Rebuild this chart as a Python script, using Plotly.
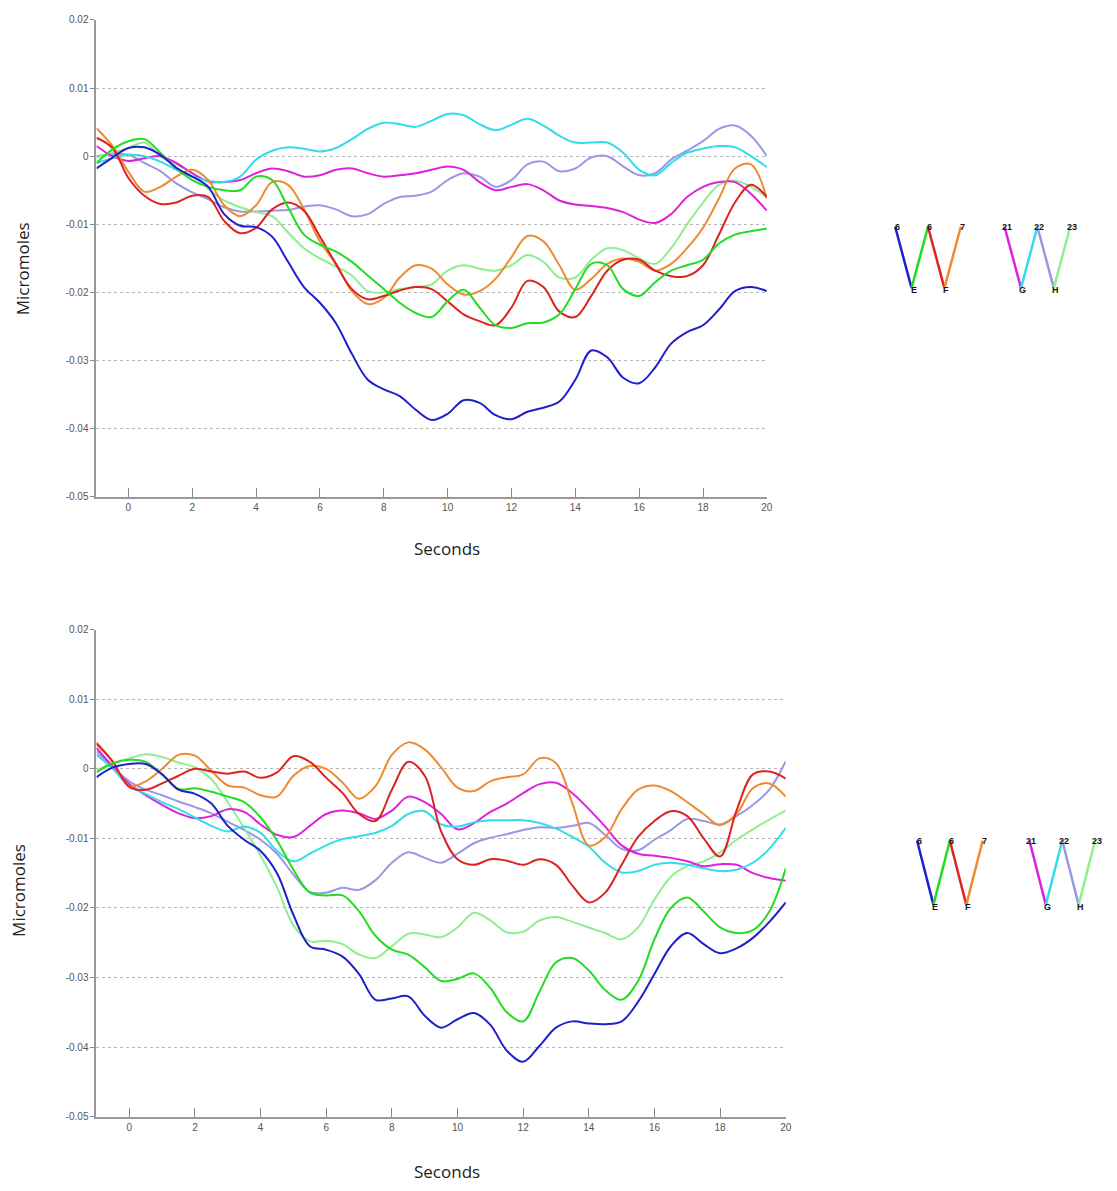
import plotly.graph_objects as go

# ---------------- data ----------------
seconds = [-1, -0.5, 0, 0.5, 1, 1.5, 2, 2.5, 3, 3.5, 4, 4.5, 5, 5.5, 6, 6.5, 7, 7.5,
           8, 8.5, 9, 9.5, 10, 10.5, 11, 11.5, 12, 12.5, 13, 13.5, 14, 14.5, 15,
           15.5, 16, 16.5, 17, 17.5, 18, 18.5, 19, 19.5, 20]

# top panel
top_blue = [-0.0018, -0.0002, 0.0012, 0.0013, 0.0002, -0.0017, -0.003, -0.0045, -0.0085, -0.0102,
            -0.0104, -0.0118, -0.0155, -0.0192, -0.0215, -0.0245, -0.029, -0.0328, -0.0342, -0.0352,
            -0.0372, -0.0387, -0.0378, -0.0358, -0.0362, -0.0380, -0.0386, -0.0375, -0.0369, -0.0360,
            -0.0328, -0.0285, -0.0295, -0.0325, -0.0333, -0.0310, -0.0275, -0.0258, -0.0248, -0.0225,
            -0.0198, -0.0192, -0.0198]
top_green = [-0.001, 0.001, 0.0022, 0.0025, 0.0005, -0.0018, -0.0035, -0.0045, -0.005, -0.005,
             -0.003, -0.0035, -0.0075, -0.0115, -0.013, -0.014, -0.0155, -0.0175, -0.0195, -0.0215,
             -0.023, -0.0236, -0.0213, -0.0196, -0.0222, -0.0248, -0.0252, -0.0245, -0.0244, -0.0232,
             -0.0195, -0.0158, -0.0160, -0.0195, -0.0205, -0.0185, -0.0168, -0.016, -0.0152, -0.0128,
             -0.0115, -0.011, -0.0106]
top_red = [0.0027, 0.0012, -0.0032, -0.0058, -0.007, -0.0068, -0.0058, -0.006, -0.0095, -0.0113,
           -0.0105, -0.0078, -0.0068, -0.008, -0.0118, -0.0158, -0.0195, -0.021, -0.0205, -0.0197,
           -0.0192, -0.0195, -0.0213, -0.0232, -0.0242, -0.0248, -0.0222, -0.0183, -0.0192, -0.0228,
           -0.0236, -0.0205, -0.0168, -0.0152, -0.0152, -0.0168, -0.0176, -0.0176, -0.0160, -0.0115,
           -0.0068, -0.0042, -0.006]
top_orange = [0.0041, 0.0015, -0.0023, -0.0052, -0.0045, -0.003, -0.002, -0.0035, -0.0072, -0.0088,
              -0.0072, -0.0038, -0.0042, -0.0078, -0.0125, -0.0158, -0.0198, -0.0217, -0.0208, -0.0178,
              -0.016, -0.0165, -0.0188, -0.0203, -0.0198, -0.0180, -0.0148, -0.0117, -0.0125, -0.016,
              -0.0196, -0.0180, -0.0158, -0.0150, -0.0155, -0.0168, -0.0158, -0.0135, -0.0105, -0.0062,
              -0.0018, -0.0012, -0.0062]
top_magenta = [0.0015, 0.0, -0.0007, -0.0003, 0.0, -0.001, -0.0025, -0.0037, -0.0038, -0.0035,
               -0.0025, -0.0018, -0.0022, -0.003, -0.0028, -0.002, -0.0018, -0.0025, -0.003, -0.0028,
               -0.0025, -0.002, -0.0015, -0.002, -0.0038, -0.005, -0.0045, -0.0041, -0.005, -0.0065,
               -0.0071, -0.0073, -0.0076, -0.0082, -0.0093, -0.0098, -0.0085, -0.006, -0.0045, -0.0038,
               -0.0038, -0.0055, -0.008]
top_cyan = [-0.001, -0.0003, 0.0002, 0.0, -0.0008, -0.002, -0.003, -0.0036, -0.0038, -0.003,
            -0.0005, 0.0008, 0.0013, 0.0011, 0.0007, 0.0012, 0.0025, 0.004, 0.0049, 0.0047,
            0.0043, 0.0052, 0.0062, 0.006, 0.0047, 0.0038, 0.0046, 0.0055, 0.0045, 0.003,
            0.002, 0.002, 0.002, 0.0005, -0.002, -0.0028, -0.001, 0.0005, 0.0011, 0.0015,
            0.0013, 0.0, -0.0016]
top_lavender = [0.0, 0.0003, 0.0002, -0.001, -0.0022, -0.004, -0.0053, -0.0063, -0.0075, -0.0081,
                -0.0081, -0.008, -0.0079, -0.0074, -0.0072, -0.0078, -0.0088, -0.0085, -0.007, -0.006,
                -0.0058, -0.0052, -0.0035, -0.0025, -0.003, -0.0045, -0.0035, -0.0012, -0.0008, -0.0022,
                -0.0018, -0.0002, 0.0, -0.0015, -0.0028, -0.0025, -0.0005, 0.0008, 0.0022, 0.004,
                0.0045, 0.003, 0.0]
top_lightgreen = [-0.0002, 0.0005, 0.0012, 0.002, 0.0, -0.0012, -0.0025, -0.0048, -0.0065, -0.0075,
                  -0.0082, -0.0088, -0.0112, -0.0135, -0.015, -0.0162, -0.0175, -0.0198, -0.02, -0.0195,
                  -0.0192, -0.0188, -0.0168, -0.016, -0.0165, -0.0168, -0.0160, -0.0145, -0.0155, -0.0178,
                  -0.0178, -0.0152, -0.0135, -0.0138, -0.0150, -0.0158, -0.0135, -0.0100, -0.0068, -0.0042,
                  -0.0036, -0.0045, -0.006]

# bottom panel
bot_blue = [-0.0012, 0.0002, 0.0007, 0.0007, -0.0008, -0.003, -0.0036, -0.005, -0.0082, -0.0102,
            -0.0118, -0.015, -0.021, -0.0255, -0.026, -0.027, -0.0295, -0.0332, -0.033, -0.0327,
            -0.0355, -0.0372, -0.036, -0.0351, -0.0368, -0.0405, -0.0421, -0.0398, -0.0372, -0.0363,
            -0.0366, -0.0367, -0.0363, -0.0335, -0.0295, -0.0255, -0.0236, -0.0252, -0.0265, -0.0258,
            -0.0243, -0.022, -0.0192]
bot_green = [-0.0005, 0.0008, 0.0013, 0.001, -0.0008, -0.0029, -0.0028, -0.0033, -0.004, -0.0048,
             -0.007, -0.0103, -0.0145, -0.0178, -0.0182, -0.0182, -0.0205, -0.024, -0.026, -0.0267,
             -0.0285, -0.0305, -0.0302, -0.0294, -0.0315, -0.035, -0.0363, -0.032, -0.0278, -0.0272,
             -0.029, -0.0318, -0.0332, -0.0305, -0.0245, -0.0200, -0.0185, -0.0205, -0.0228, -0.0236,
             -0.0232, -0.0205, -0.0143]
bot_red = [0.0036, 0.001, -0.0026, -0.003, -0.0021, -0.001, 0.0, -0.0004, -0.0007, -0.0004,
           -0.0013, -0.0005, 0.0018, 0.001, -0.0013, -0.0035, -0.0065, -0.0075, -0.003, 0.001,
           -0.001, -0.009, -0.013, -0.0138, -0.013, -0.0132, -0.0138, -0.013, -0.0138, -0.0168,
           -0.0192, -0.0178, -0.0138, -0.0098, -0.0075, -0.0061, -0.0068, -0.01, -0.0126, -0.006,
           -0.0008, -0.0004, -0.0014]
bot_orange = [0.0038, 0.001, -0.0025, -0.0018, 0.0, 0.002, 0.0019, -0.0003, -0.0024, -0.0027,
              -0.0038, -0.004, -0.001, 0.0004, 0.0, -0.002, -0.0043, -0.0025, 0.002, 0.0038,
              0.0028, 0.0002, -0.0027, -0.0032, -0.0018, -0.0012, -0.0008, 0.0015, 0.0008, -0.005,
              -0.011, -0.0098, -0.0058, -0.003, -0.0024, -0.0032, -0.0048, -0.0065, -0.0081, -0.0065,
              -0.0028, -0.0021, -0.004]
bot_magenta = [0.003, 0.0003, -0.0022, -0.0038, -0.0052, -0.0064, -0.0071, -0.0068, -0.0058, -0.0062,
               -0.008, -0.0095, -0.0098, -0.0082, -0.0065, -0.006, -0.0064, -0.0072, -0.006, -0.004,
               -0.0048, -0.0065, -0.0087, -0.0078, -0.0062, -0.005, -0.0035, -0.0022, -0.002, -0.0035,
               -0.0058, -0.0083, -0.011, -0.0122, -0.0125, -0.0128, -0.0133, -0.014, -0.0137, -0.0138,
               -0.015, -0.0157, -0.0161]
bot_cyan = [0.002, 0.0, -0.0025, -0.0036, -0.0048, -0.0058, -0.007, -0.0082, -0.009, -0.0083,
            -0.0092, -0.0118, -0.0133, -0.0122, -0.011, -0.0101, -0.0097, -0.0092, -0.0082, -0.0065,
            -0.0061, -0.008, -0.0083, -0.0077, -0.0074, -0.0074, -0.0074, -0.0078, -0.0086, -0.0098,
            -0.0112, -0.0135, -0.0149, -0.0147, -0.0138, -0.0135, -0.0138, -0.0143, -0.0147, -0.0145,
            -0.0135, -0.0115, -0.0085]
bot_lavender = [0.0025, 0.0002, -0.0018, -0.003, -0.0038, -0.0047, -0.0055, -0.0064, -0.0076, -0.0088,
                -0.0102, -0.0122, -0.0152, -0.0177, -0.0178, -0.0171, -0.0174, -0.016, -0.0135, -0.012,
                -0.0128, -0.0135, -0.0122, -0.0107, -0.0099, -0.0094, -0.0088, -0.0084, -0.0085, -0.0082,
                -0.0078, -0.0095, -0.0115, -0.0117, -0.0102, -0.0088, -0.0072, -0.0075, -0.008, -0.0068,
                -0.0052, -0.003, 0.0011]
bot_lightgreen = [-0.0002, 0.0008, 0.0015, 0.0021, 0.0017, 0.0009, 0.0002, -0.0015, -0.0048, -0.0085,
                  -0.0125, -0.017, -0.0225, -0.0248, -0.0247, -0.0252, -0.0267, -0.0272, -0.0255, -0.0237,
                  -0.0238, -0.0242, -0.0228, -0.0207, -0.0218, -0.0235, -0.0234, -0.0218, -0.0213, -0.022,
                  -0.0228, -0.0236, -0.0245, -0.0228, -0.0188, -0.0155, -0.014, -0.0133, -0.012, -0.0102,
                  -0.0087, -0.0073, -0.006]

y_tickvals = [0.02, 0.01, 0, -0.01, -0.02, -0.03, -0.04, -0.05]
y_ticktext = ["0.02", "0.01", "0", "-0.01", "-0.02", "-0.03", "-0.04", "-0.05"]
x_tickvals = [0, 2, 4, 6, 8, 10, 12, 14, 16, 18, 20]
x_ticktext = ["0", "2", "4", "6", "8", "10", "12", "14", "16", "18", "20"]

# key diagram labels
key_top_labels = ["6", "6", "7", "21", "22", "23"]
key_bottom_labels = ["E", "F", "G", "H"]

# ---------------- style ----------------
COL = {
    "blue": "#1f1fcc",
    "green": "#22dd22",
    "red": "#dd2222",
    "orange": "#ef8a30",
    "magenta": "#dd22dd",
    "cyan": "#33dde8",
    "lavender": "#9a98e4",
    "lightgreen": "#8fee8f",
}

W, H = 1117, 1191


def fx(p):
    return p / W


def fy(p):
    return 1 - p / H


fig = go.Figure()

top_series = [("lavender", top_lavender), ("lightgreen", top_lightgreen), ("magenta", top_magenta),
              ("cyan", top_cyan), ("orange", top_orange), ("red", top_red), ("green", top_green),
              ("blue", top_blue)]
bot_series = [("lavender", bot_lavender), ("lightgreen", bot_lightgreen), ("magenta", bot_magenta),
              ("cyan", bot_cyan), ("orange", bot_orange), ("red", bot_red), ("green", bot_green),
              ("blue", bot_blue)]

for name, vals in top_series:
    fig.add_trace(go.Scatter(x=seconds, y=vals, mode="lines", xaxis="x", yaxis="y",
                             line=dict(color=COL[name], width=2, shape="spline", smoothing=1.0),
                             showlegend=False, hoverinfo="skip"))
for name, vals in bot_series:
    fig.add_trace(go.Scatter(x=seconds, y=vals, mode="lines", xaxis="x2", yaxis="y2",
                             line=dict(color=COL[name], width=2, shape="spline", smoothing=1.0),
                             showlegend=False, hoverinfo="skip"))

tickfont = dict(family="Liberation Sans Narrow, Arial Narrow, Liberation Sans, sans-serif",
                size=10, color="#555555")

xaxis_common = dict(range=[-1, 20], tickvals=x_tickvals, ticktext=x_ticktext, showgrid=False,
                    zeroline=False, showline=True, linecolor="#999999", linewidth=2,
                    ticks="inside", ticklen=9, tickcolor="#888888", tickwidth=1, tickfont=tickfont)
yaxis_common = dict(range=[-0.05, 0.02], tickvals=y_tickvals, ticktext=y_ticktext, showgrid=True,
                    gridcolor="#b5b5b5", griddash="dot", gridwidth=1, zeroline=False,
                    showline=True, linecolor="#999999", linewidth=2, ticks="outside", ticklen=4,
                    tickcolor="#888888", tickfont=tickfont)

fig.update_layout(
    width=W, height=H,
    margin=dict(l=0, r=0, t=0, b=0),
    paper_bgcolor="white", plot_bgcolor="white",
    xaxis=dict(domain=[fx(97), fx(771)], anchor="y", **xaxis_common),
    yaxis=dict(domain=[fy(496), fy(14)], anchor="x", **yaxis_common),
    xaxis2=dict(domain=[fx(97), fx(790)], anchor="y2", **xaxis_common),
    yaxis2=dict(domain=[fy(1122), fy(630)], anchor="x2", **yaxis_common),
)

title_font = dict(family="Open Sans, Noto Sans, sans-serif", size=17, color="#222222")
annotations = [
    dict(text="Seconds", x=fx(449), y=fy(548), xref="paper", yref="paper", showarrow=False,
         font=title_font, xanchor="center", yanchor="middle"),
    dict(text="Seconds", x=fx(449), y=fy(1177), xref="paper", yref="paper", showarrow=False,
         font=title_font, xanchor="center", yanchor="middle"),
    dict(text="Micromoles", x=fx(22), y=fy(265), xref="paper", yref="paper", showarrow=False,
         font=title_font, textangle=-90, xanchor="center", yanchor="middle"),
    dict(text="Micromoles", x=fx(18), y=fy(893), xref="paper", yref="paper", showarrow=False,
         font=title_font, textangle=-90, xanchor="center", yanchor="middle"),
]

# key diagrams ("W W")
shapes = []
key_font = dict(family="Liberation Sans, Arial, sans-serif", size=9, color="#111111")


def add_key(x0, dx, ytop, ybot, gap):
    # left W: blue, green, red, orange ; right W: magenta, cyan, lavender, lightgreen
    left = ["blue", "green", "red", "orange"]
    right = ["magenta", "cyan", "lavender", "lightgreen"]
    for group, xs in ((left, x0), (right, x0 + gap)):
        pts = [(xs + i * dx, ytop if i % 2 == 0 else ybot) for i in range(5)]
        for i, c in enumerate(group):
            (a, b), (c2, d) = pts[i], pts[i + 1]
            shapes.append(dict(type="line", xref="paper", yref="paper",
                               x0=fx(a), y0=fy(b), x1=fx(c2), y1=fy(d),
                               line=dict(color=COL[c], width=2.5)))
    tops = [x0, x0 + 2 * dx, x0 + 4 * dx, x0 + gap, x0 + gap + 2 * dx, x0 + gap + 4 * dx]
    bots = [x0 + dx, x0 + 3 * dx, x0 + gap + dx, x0 + gap + 3 * dx]
    for t, xx in zip(key_top_labels, tops):
        annotations.append(dict(text="<b>%s</b>" % t, x=fx(xx + 2), y=fy(ytop), xref="paper",
                                yref="paper", showarrow=False, font=key_font,
                                xanchor="center", yanchor="middle"))
    for t, xx in zip(key_bottom_labels, bots):
        annotations.append(dict(text="<b>%s</b>" % t, x=fx(xx + 2), y=fy(ybot + 2), xref="paper",
                                yref="paper", showarrow=False, font=key_font,
                                xanchor="center", yanchor="middle"))


add_key(900, 16.5, 223, 285, 110)
add_key(922, 16.5, 843, 908, 113)

fig.update_layout(shapes=shapes, annotations=annotations)

fig.write_html("out.html",
               config={"displayModeBar": False, "staticPlot": True},
               post_script=(
                   "var s=document.documentElement.style;s.margin='0';s.padding='0';"
                   "s.overflow='hidden';s.height='1191px';"
                   "var b=document.body.style;b.margin='0';b.padding='0';"
                   "b.overflow='hidden';b.height='1191px';"
               ))
